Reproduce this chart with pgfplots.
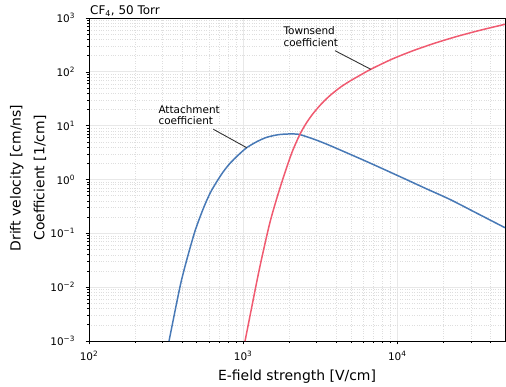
\documentclass[border=0pt]{standalone}
\usepackage{fontspec}
\setmainfont{DejaVu Sans}
\usepackage{pgfplots}
\pgfplotsset{compat=1.18}
\definecolor{cblue}{RGB}{72,121,182}
\definecolor{cred}{RGB}{240,90,112}
\pgfplotstableread{
x y
330.5 0.001
389.5 0.01020
430.5 0.03196
487.4 0.1105
551.6 0.2893
609.9 0.5544
674.1 0.9106
743.8 1.397
822.2 2.001
930.8 2.853
1055 3.898
1226 5.040
1423 6.083
1692 6.799
1965 7.005
2281 6.917
2677 6.03
3155 5.083
3848 4.018
6341 2.151
10430 1.128
15150 0.6898
22010 0.4253
33190 0.2326
50000 0.1272
}\attach
\pgfplotstableread{
x y
1029 0.001
1240 0.01481
1352 0.04697
1495 0.1624
1652 0.4438
1824 1.090
2067 3.108
2340 7.005
2586 11.46
2855 17.05
3236 25.82
3664 36.37
4254 51.20
4939 67.61
5735 86.28
6730 111.5
9254 172.5
12720 248.1
17590 342.0
24330 453.6
34870 596.5
50000 764.4
}\townsend
\begin{document}
\begin{tikzpicture}
\begin{axis}[
  at={(0,0)}, anchor=south west,
  scale only axis, width=416bp, height=323bp,
  xmode=log, ymode=log,
  xmin=100, xmax=50000, ymin=1e-3, ymax=1e3,
  xtick={100,1000,10000},
  xticklabels={10\textsuperscript{2},10\textsuperscript{3},10\textsuperscript{4}},
  ytick={0.001,0.01,0.1,1,10,100,1000},
  yticklabels={10\textsuperscript{−3},10\textsuperscript{−2},10\textsuperscript{−1},10\textsuperscript{0},10\textsuperscript{1},10\textsuperscript{2},10\textsuperscript{3}},
  minor xtick={200,300,400,500,600,700,800,900,2000,3000,4000,5000,6000,7000,8000,9000,20000,30000,40000},
  minor ytick={0.002,0.003,0.004,0.005,0.006,0.007,0.008,0.009,0.02,0.03,0.04,0.05,0.06,0.07,0.08,0.09,0.2,0.3,0.4,0.5,0.6,0.7,0.8,0.9,2,3,4,5,6,7,8,9,20,30,40,50,60,70,80,90,200,300,400,500,600,700,800,900},
  grid=both,
  major grid style={black!9, line width=0.9pt},
  minor grid style={black!13, dotted, line width=0.5pt},
  tick align=outside, tick pos=left,
  major tick length=3.5bp, minor tick length=2bp,
  every tick/.style={black, line width=0.6pt},
  axis line style={black, line width=0.9pt},
  ticklabel style={font=\fontsize{10.5}{12}\selectfont},
  xticklabel style={anchor=base, yshift=-16bp},
  yticklabel style={anchor=east, xshift=-7bp},
  xlabel={E-field strength [V/cm]},
  xlabel style={font=\fontsize{14}{16}\selectfont, at={(rel axis cs:0.5,0)}, anchor=base, yshift=-39.5bp},
  clip=true,
]
\addplot[cblue, line width=1.5pt, smooth, tension=0.45] table[x=x,y=y] {\attach};
\addplot[cred, line width=1.5pt, smooth, tension=0.45] table[x=x,y=y] {\townsend};
\draw[black!80, line width=0.9pt] (axis cs:641,8.57) -- (axis cs:1055,3.898);
\draw[black!80, line width=0.9pt] (axis cs:3945,247) -- (axis cs:6730,111.5);
\end{axis}
\begin{scope}[every node/.style={font=\fontsize{10.5}{12}\selectfont, inner sep=0pt}]
\node[anchor=base west] at (69.3bp,227.7bp) {Attachment};
\node[anchor=base west] at (69.3bp,216bp) {coefficient};
\node[anchor=base west] at (194.3bp,306bp) {Townsend};
\node[anchor=base west] at (194.3bp,294.3bp) {coefficient};
\end{scope}
\node[anchor=base, rotate=90, inner sep=0pt, font=\fontsize{14}{16}\selectfont] at (-68.3bp,163bp) {Drift velocity [cm/ns]};
\node[anchor=base, rotate=90, inner sep=0pt, font=\fontsize{14}{16}\selectfont] at (-44.7bp,163bp) {Coefficient [1/cm]};
\node[anchor=base west, inner sep=0pt, font=\fontsize{12}{14}\selectfont] at (1bp,326.7bp) {CF\textsubscript{4}, 50 Torr};
\path (-89bp,-43bp) rectangle (417bp,341bp);
\end{tikzpicture}
\end{document}
